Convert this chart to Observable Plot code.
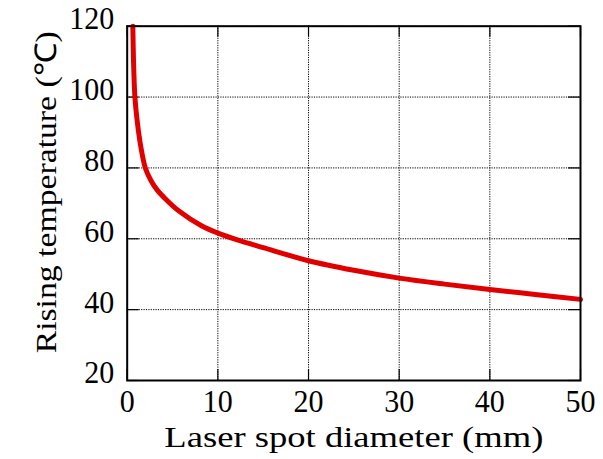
<!DOCTYPE html>
<html>
<head>
<meta charset="utf-8">
<script src="https://cdn.jsdelivr.net/npm/d3@7"></script>
<script src="https://cdn.jsdelivr.net/npm/@observablehq/plot@0.6"></script>
<style>
  html, body { margin: 0; padding: 0; background: #fff; }
  #chart svg { display: block; }
  #chart svg text { font-family: "Liberation Serif", "Times New Roman", serif; }
</style>
</head>
<body>
<div id="chart"></div>
<script>
const diameter = [0.62, 0.7, 0.85, 1.1, 1.5, 2.0, 2.63, 3.3, 4.2, 5.67, 8.24, 10, 12.5, 15, 20, 25, 30, 35, 40, 45, 50];
const temperature = [120, 110, 100, 93.3, 86, 80, 76.4, 73.8, 71.3, 67.9, 63.6, 61.6, 59.4, 57.5, 53.8, 51.1, 48.9, 47.2, 45.7, 44.3, 42.9];
const xTicks = [0, 10, 20, 30, 40, 50];
const yTicks = [20, 40, 60, 80, 100, 120];
const xLabel = "Laser spot diameter (mm)";
const yLabel = "Rising temperature (\u2103)";

const data = diameter.map((d, i) => ({d, t: temperature[i]}));

const W = 603, H = 459;
const mL = 126.7, mR = 23, mT = 25.7, mB = 79;
const fw = W - mL - mR, fh = H - mT - mB;
const font = "Liberation Serif, Times New Roman, serif";

const chart = Plot.plot({
  width: W,
  height: H,
  marginLeft: mL,
  marginRight: mR,
  marginTop: mT,
  marginBottom: mB,
  style: {fontFamily: font, fontSize: "30px", background: "#fff", color: "#000"},
  x: {domain: [0, 50], ticks: xTicks},
  y: {domain: [20, 120], ticks: yTicks},
  marks: [
    Plot.gridX(xTicks, {stroke: "#000", strokeOpacity: 1, strokeWidth: 1, strokeDasharray: "1.2,1.2"}),
    Plot.gridY(yTicks, {stroke: "#000", strokeOpacity: 1, strokeWidth: 1, strokeDasharray: "1.2,1.2"}),
    Plot.tickY(yTicks, {y: d => d, stroke: "#000", strokeWidth: 1.2, insetRight: fw - 12}),
    Plot.tickY(yTicks, {y: d => d, stroke: "#000", strokeWidth: 1.2, insetLeft: fw - 12}),
    Plot.tickX(xTicks, {x: d => d, stroke: "#000", strokeWidth: 1.2, insetTop: fh - 11}),
    Plot.tickX(xTicks, {x: d => d, stroke: "#000", strokeWidth: 1.2, insetBottom: fh - 11}),
    Plot.axisX({ticks: xTicks, tickSize: 0, tickPadding: 9, label: null, fontSize: 31, className: "xt"}),
    Plot.axisY({ticks: yTicks, tickSize: 0, tickPadding: 13, dy: -7, label: null, fontSize: 31, className: "yt"}),
    Plot.line(data, {x: "d", y: "t", stroke: "#e10000", strokeWidth: 5, curve: "catmull-rom"}),
    Plot.frame({stroke: "#000", strokeWidth: 2}),
    Plot.text([xLabel], {text: d => d, frameAnchor: "bottom", dy: 66, fontSize: 30, fill: "#000", className: "xl"}),
    Plot.text([yLabel], {text: d => d, frameAnchor: "left", textAnchor: "middle", rotate: -90, dx: -81, dy: -11, fontSize: 30, fill: "#000", className: "yl"})
  ]
});
document.getElementById("chart").appendChild(chart);
// stretch glyphs horizontally to match the reference's wider type
const svg = d3.select(chart);
svg.selectAll(".xl text").attr("textLength", 379).attr("lengthAdjust", "spacingAndGlyphs");
svg.selectAll(".yl text").attr("textLength", 322).attr("lengthAdjust", "spacingAndGlyphs");
svg.selectAll(".xt text, .yt text").each(function() {
  const n = this.textContent.length;
  d3.select(this).attr("textLength", 15 * n).attr("lengthAdjust", "spacingAndGlyphs");
});
</script>
</body>
</html>
